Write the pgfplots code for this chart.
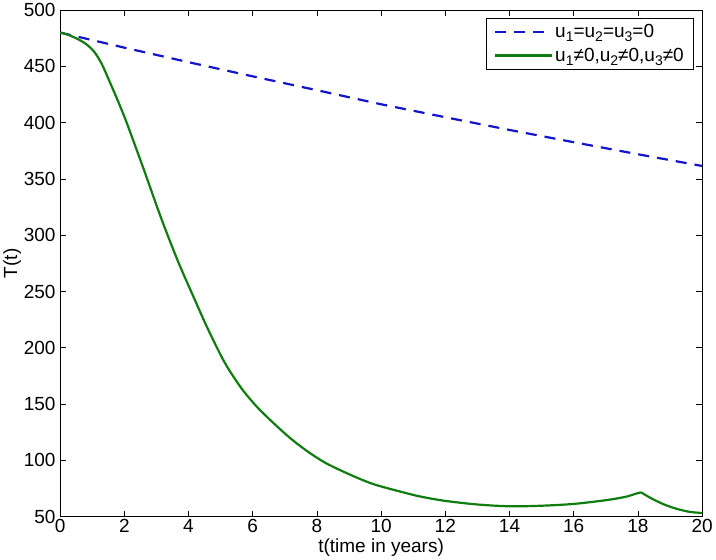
\documentclass[border=0pt]{standalone}
\usepackage{fontspec}
\setmainfont{Liberation Sans}
\usepackage{pgfplots}
\pgfplotsset{compat=1.18}
\definecolor{uzero}{RGB}{20,20,205}
\definecolor{ucontrol}{RGB}{16,125,16}
\newcommand{\sub}[1]{\raisebox{-0.4ex}{\fontsize{14}{14}\selectfont #1}}

\begin{document}
\begin{tikzpicture}
\begin{axis}[scale only axis,width=640bp,height=505bp,
 xmin=0,xmax=20,ymin=50,ymax=500,
 xtick={0,2,...,20},ytick={50,100,...,500},
 tick pos=both,major tick length=6bp,tick style={black,line width=0.6pt},
 axis line style={line width=0.8pt},
 /pgf/number format/assume math mode=true,
 ticklabel style={font=\fontsize{19}{22}\selectfont},
 xticklabel style={yshift=1bp},
 yticklabel style={xshift=-1bp},
 xlabel={t(time in years)},ylabel={T(t)},
 xlabel style={yshift=1bp},ylabel style={yshift=-4bp},
 label style={font=\fontsize{19}{22}\selectfont},
 legend cell align=left,
 legend style={at={(1,1)},anchor=north east,xshift=-8bp,yshift=-8bp,
  draw=black,line width=0.6pt,font=\fontsize{19}{22}\selectfont,
  inner xsep=8bp,inner ysep=4bp,row sep=5bp},
 legend image code/.code={\draw[#1] (0cm,0cm) -- (2.0cm,0cm);}]
\addplot[uzero,line width=2.2pt,dash pattern=on 11bp off 8bp] coordinates {
 (0,480) (2,466.6) (4,453.7) (6,441.1) (8,428.8) (10,416.3) (12,404.8)
 (14,393.5) (16,382.6) (18,371.9) (20,361.5)};
\addlegendentry{u\sub{1}=u\sub{2}=u\sub{3}=0}
\addplot[ucontrol,line width=2.2pt,smooth] coordinates {
 (0,480) (0.25,478) (0.53,474.5) (0.8,470) (1.06,463) (1.3,452)
 (1.58,434) (1.85,416) (2.1,398) (2.625,357) (3.15,315) (3.67,277)
 (4.16,245) (4.6,217) (5.125,187) (5.65,164) (6.15,147) (6.69,132)
 (7.2,119) (7.73,107.5) (8.25,98) (8.77,90.7) (9.3,84) (9.8,78.5)
 (10.5,73) (11.2,68) (12,64) (13,60.8) (14,59.2) (15,59.7) (16,61.3)
 (17,64.6) (17.6,67.5) (17.95,70.5) (18.1,71.6)};
\addlegendentry{u\sub{1}≠0,u\sub{2}≠0,u\sub{3}≠0}
\addplot[ucontrol,line width=2.2pt,smooth,tension=0.5,forget plot] coordinates {
 (18.1,71.6) (18.4,66.5) (18.8,61) (19.2,57) (19.6,54.3) (20,53.2)};
\end{axis}
\end{tikzpicture}
\end{document}
